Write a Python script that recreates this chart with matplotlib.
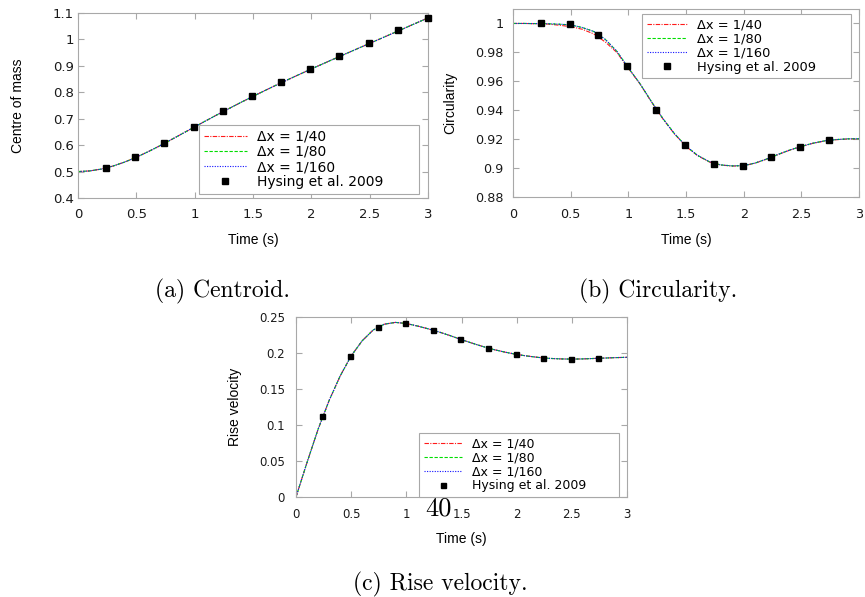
import numpy as np
import matplotlib
matplotlib.use('Agg')
import matplotlib.pyplot as plt
from matplotlib.ticker import FuncFormatter, MultipleLocator

# ---- data ----
t_sim = np.round(np.arange(0, 3.01, 0.1), 1)

centroid = [0.5000, 0.5024, 0.5095, 0.5209, 0.5360, 0.5542, 0.5749, 0.5973,
            0.6209, 0.6450, 0.6692, 0.6931, 0.7167, 0.7398, 0.7625, 0.7846,
            0.8062, 0.8273, 0.8480, 0.8682, 0.8882, 0.9079, 0.9274, 0.9467,
            0.9659, 0.9851, 1.0042, 1.0235, 1.0427, 1.0621, 1.0815]

circ_40 = [1.0000, 1.0000, 0.9998, 0.9996, 0.9988, 0.9978, 0.9960, 0.9928,
           0.9872, 0.9800, 0.9690, 0.9583, 0.9458, 0.9340, 0.9236, 0.9150,
           0.9086, 0.9043, 0.9021, 0.9014, 0.9016, 0.9034, 0.9062, 0.9094,
           0.9124, 0.9149, 0.9171, 0.9187, 0.9196, 0.9201, 0.9202]
circ_80 = [1.0000, 1.0000, 0.9999, 0.9998, 0.9995, 0.9990, 0.9972, 0.9945,
           0.9890, 0.9808, 0.9693, 0.9585, 0.9460, 0.9342, 0.9238, 0.9152,
           0.9088, 0.9045, 0.9022, 0.9015, 0.9017, 0.9035, 0.9063, 0.9095,
           0.9125, 0.9150, 0.9172, 0.9188, 0.9197, 0.9202, 0.9203]
circ_160 = circ_80

velocity = [0.0, 0.048, 0.094, 0.134, 0.168, 0.196, 0.217, 0.232, 0.240,
            0.2425, 0.241, 0.2375, 0.2335, 0.229, 0.224, 0.2185, 0.2135,
            0.2087, 0.2045, 0.201, 0.198, 0.1957, 0.1938, 0.1925, 0.1918,
            0.1915, 0.1918, 0.1924, 0.193, 0.1936, 0.194]

t_ref = [0.24, 0.49, 0.74, 0.99, 1.24, 1.49, 1.74, 1.99, 2.24, 2.49, 2.74, 3.0]
centroid_ref = [0.515, 0.555, 0.609, 0.668, 0.729, 0.786, 0.838, 0.888,
                0.937, 0.986, 1.035, 1.082]
circ_ref = [1.0, 0.9993, 0.9922, 0.9703, 0.9405, 0.9158, 0.9026, 0.9016,
            0.9077, 0.9147, 0.9193]
velocity_ref = [0.113, 0.196, 0.236, 0.241, 0.232, 0.219, 0.2065, 0.1986,
                0.193, 0.1917, 0.1926]

labels = ['Δx = 1/40', 'Δx = 1/80', 'Δx = 1/160', 'Hysing et al. 2009']

W, H = 865, 597
GREY = '#a8a8a8'
LINE_STYLES = [
    dict(color='#ff1a1a', linestyle=(0, (4, 1.2, 1, 1.2))),
    dict(color='#00dd00', linestyle=(0, (3, 1.5))),
    dict(color='#1010ff', linestyle=(0, (1, 1.3))),
]


def px_axes(x0, y0, x1, y1):
    """Axes from pixel box (left, top, right, bottom)."""
    return fig.add_axes([x0 / W, 1 - y1 / H, (x1 - x0) / W, (y1 - y0) / H])


def draw_panel(ax, series, t_mk, y_mk, ms, tick_fs, pads, leg_box, leg_fs,
               ylabel, xlab_y, ylab_x):
    for ys, st, lab in zip(series, LINE_STYLES, labels[:3]):
        ax.plot(t_sim, ys, linewidth=0.8, label=lab, zorder=2, **st)
    ax.plot(t_mk[:len(y_mk)], y_mk, 's', color='black', markersize=ms,
            label=labels[3], zorder=5, clip_on=False)

    for s in ax.spines.values():
        s.set_color(GREY)
        s.set_linewidth(0.8)
    ax.tick_params(direction='in', length=4.3, width=0.8, color=GREY,
                   top=True, right=True, labelsize=tick_fs,
                   labelcolor='#1a1a1a')
    ax.tick_params(axis='x', pad=pads[0])
    ax.tick_params(axis='y', pad=pads[1])
    fmt = FuncFormatter(lambda v, p: f'{v:.10g}' if abs(v) > 1e-12 else '0')
    ax.xaxis.set_major_formatter(fmt)
    ax.yaxis.set_major_formatter(fmt)
    ax.set_xlim(0, 3)
    ax.xaxis.set_major_locator(MultipleLocator(0.5))

    ax.set_xlabel('Time (s)', family='Liberation Sans', fontsize=10)
    ax.set_ylabel(ylabel, family='Liberation Sans', fontsize=10)
    ax.xaxis.set_label_coords(0.5, xlab_y)
    ax.yaxis.set_label_coords(ylab_x, 0.5)

    # leg_box = (left, bottom, width, height) in axes fraction
    leg = ax.legend(loc='upper left', bbox_to_anchor=leg_box, mode='expand',
                    borderaxespad=0, fontsize=leg_fs, handlelength=3.1,
                    handletextpad=0.75, labelspacing=0.08, borderpad=0.35,
                    numpoints=1, fancybox=False, framealpha=1)
    leg.get_frame().set_edgecolor(GREY)
    leg.get_frame().set_linewidth(0.8)


fig = plt.figure(figsize=(W / 100, H / 100), dpi=100)

# (a) centre of mass
ax_a = px_axes(78, 13, 428, 198)
ax_a.set_ylim(0.4, 1.1)
ax_a.yaxis.set_major_locator(MultipleLocator(0.1))
draw_panel(ax_a, [centroid, centroid, centroid], t_ref, centroid_ref, 4.7,
           9.5, (7, 3), (0.346, 0.038, 0.628, 0.357), 10, 'Centre of mass',
           -0.19, -0.151)

# (b) circularity
ax_b = px_axes(513, 9, 859, 197)
ax_b.set_ylim(0.88, 1.01)
ax_b.yaxis.set_major_locator(MultipleLocator(0.02))
draw_panel(ax_b, [circ_40, circ_80, circ_160], t_ref, circ_ref, 4.3,
           9.2, (8, 7), (0.373, 0.617, 0.604, 0.356), 9.4, 'Circularity',
           -0.191, -0.162)

# (c) rise velocity
ax_c = px_axes(296, 317, 627, 497)
ax_c.set_ylim(0, 0.25)
ax_c.yaxis.set_major_locator(MultipleLocator(0.05))
draw_panel(ax_c, [velocity, velocity, velocity], t_ref, velocity_ref, 3.6,
           8.5, (8, 8), (0.372, 0.028, 0.604, 0.328), 9, 'Rise velocity',
           -0.194, -0.163)

# captions and page number in Computer Modern
cap = dict(fontname='cmr10', fontsize=17, ha='center', va='baseline')
fig.text(223 / W, 1 - 297 / H, '(a) Centroid.', **cap)
fig.text(658 / W, 1 - 297 / H, '(b) Circularity.', **cap)
fig.text(440 / W, 1 - 590 / H, '(c) Rise velocity.', **cap)
fig.text(438 / W, 1 - 515 / H, '40', fontname='cmr10', fontsize=19,
         ha='center', va='baseline', zorder=10)

fig.savefig('out.png', dpi=100)
